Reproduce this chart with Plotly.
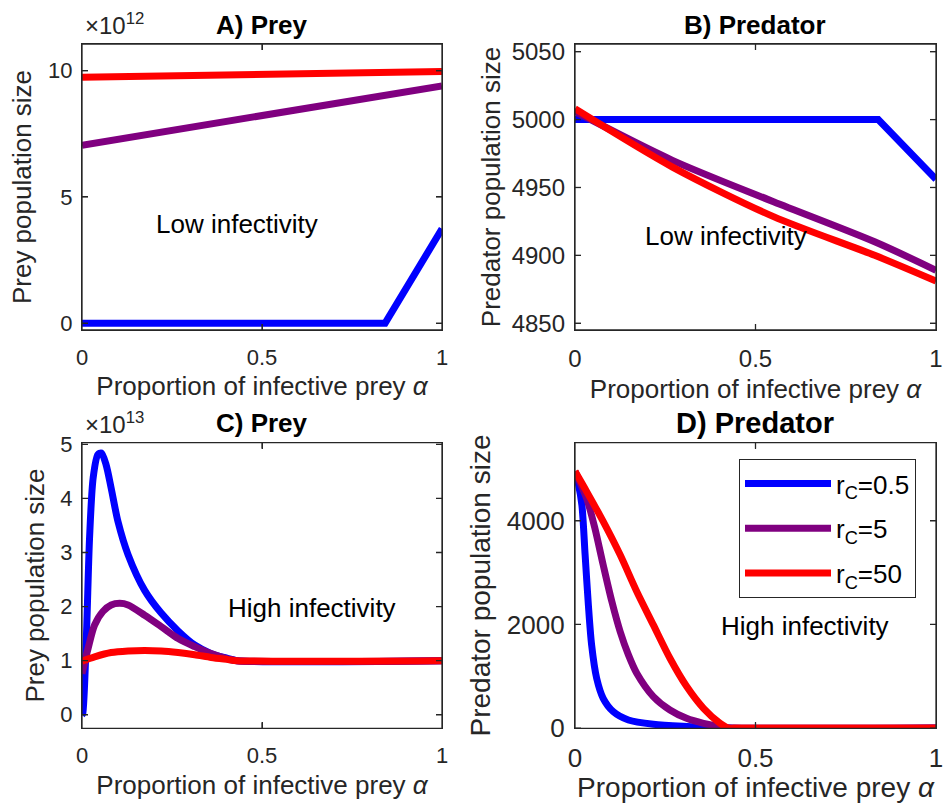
import plotly.graph_objects as go

# ---------------- data ----------------
# Panel A: prey, low infectivity
A_alpha_blue = [0.0, 0.842, 1.0]
A_prey_blue = [0.0, 0.0, 3.74e12]
A_alpha = [0.0, 0.25, 0.5, 0.75, 1.0]
A_prey_purple = [7.05e12, 7.62e12, 8.2e12, 8.8e12, 9.4e12]
A_prey_red = [9.74e12, 9.80e12, 9.86e12, 9.92e12, 9.97e12]

# Panel B: predator, low infectivity
B_alpha_blue = [0.0, 0.84, 1.0]
B_pred_blue = [5000, 5000, 4956]
B_alpha = [0.0, 0.27, 0.55, 0.83, 1.0]
B_pred_purple = [5006, 4970, 4939.5, 4910, 4889]
B_pred_red = [5008, 4965, 4928.5, 4900, 4881]

# Panel C: prey, high infectivity
C_alpha_blue = [0.0, 0.002, 0.012, 0.021, 0.031, 0.044, 0.054, 0.067, 0.081, 0.1,
                0.128, 0.174, 0.22, 0.267, 0.313, 0.359, 0.406, 0.43, 1.0]
C_prey_blue = [0.0, 0.02e13, 1.41e13, 3.27e13, 4.38e13, 4.81e13, 4.84e13, 4.62e13, 4.19e13, 3.57e13,
               2.96e13, 2.30e13, 1.88e13, 1.55e13, 1.29e13, 1.13e13, 1.04e13, 1.0e13, 1.0e13]
C_alpha_purple = [0.0, 0.017, 0.035, 0.058, 0.081, 0.105, 0.128, 0.174, 0.22, 0.267,
                  0.313, 0.359, 0.406, 0.43, 1.0]
C_prey_purple = [0.76e13, 1.23e13, 1.66e13, 1.91e13, 2.03e13, 2.06e13, 2.03e13, 1.84e13, 1.63e13, 1.41e13,
                 1.26e13, 1.13e13, 1.03e13, 1.0e13, 1.0e13]
C_alpha_red = [0.0, 0.035, 0.081, 0.128, 0.174, 0.22, 0.267, 0.313, 0.359, 0.406, 0.43, 1.0]
C_prey_red = [0.99e13, 1.07e13, 1.15e13, 1.18e13, 1.19e13, 1.18e13, 1.15e13, 1.11e13, 1.06e13, 1.02e13,
              1.0e13, 1.0e13]

# Panel D: predator, high infectivity
D_alpha_blue = [0.0, 0.008, 0.019, 0.028, 0.037, 0.046, 0.06, 0.078, 0.106, 0.148, 0.217, 0.31, 0.42, 1.0]
D_pred_blue = [4950, 4750, 4309, 3343, 2377, 1604, 960, 574, 317, 155, 72, 30, 0, 0]
D_alpha_purple = [0.0, 0.032, 0.055, 0.078, 0.102, 0.125, 0.148, 0.171, 0.217, 0.263,
                  0.309, 0.356, 0.402, 0.43, 1.0]
D_pred_purple = [4950, 4439, 3859, 3150, 2443, 1863, 1411, 1057, 607, 348, 187, 91, 30, 0, 0]
D_alpha_red = [0.0, 0.032, 0.078, 0.125, 0.171, 0.217, 0.263, 0.309, 0.356, 0.402, 0.425, 0.44, 1.0]
D_pred_red = [4955, 4568, 3988, 3343, 2636, 1990, 1347, 806, 381, 91, 0, 0, 0]

series_names = ["r<sub>C</sub>=0.5", "r<sub>C</sub>=5", "r<sub>C</sub>=50"]
colors = ["#0000FF", "#800080", "#FF0000"]

panel_titles = ["A) Prey", "B) Predator", "C) Prey", "D) Predator"]
xlabel = "Proportion of infective prey <i>α</i>"
ylabels = ["Prey population size", "Predator population size",
           "Prey population size", "Predator population size"]
notes = ["Low infectivity", "Low infectivity", "High infectivity", "High infectivity"]

# axis ranges and ticks
xrange_all = [0.0, 1.0]
xtickvals = [0, 0.5, 1]
xticktext = ["0", "0.5", "1"]
yranges = [[-0.27e12, 11.06e12], [4845, 5055.7], [-0.25e13, 5.03e13], [-5, 5507]]
ytickvals = [[0, 5e12, 10e12], [4850, 4900, 4950, 5000, 5050], [0, 1e13, 2e13, 3e13, 4e13, 5e13], [0, 2000, 4000]]
yticktext = [["0", "5", "10"], ["4850", "4900", "4950", "5000", "5050"], ["0", "1", "2", "3", "4", "5"], ["0", "2000", "4000"]]

# ---------------- figure ----------------
W, H = 951, 803
FONT = "Liberation Sans, Arial, Helvetica, sans-serif"
AX = "#262626"
LW = 7
FRAME_W = 1.3
TICK_PX = 6

def px_x(p):
    return p / W

def px_y(p):
    return 1 - p / H

# subplot boxes in pixels (left, right, top, bottom)
boxes = [(82, 442, 44, 330), (575, 936, 44, 330), (82, 442, 442.7, 728.3), (575, 936, 442.7, 728.3)]

fig = go.Figure()

panels = [
    ("x", "y", [(A_alpha_blue, A_prey_blue), (A_alpha, A_prey_purple), (A_alpha, A_prey_red)]),
    ("x2", "y2", [(B_alpha_blue, B_pred_blue), (B_alpha, B_pred_purple), (B_alpha, B_pred_red)]),
    ("x3", "y3", [(C_alpha_blue, C_prey_blue), (C_alpha_purple, C_prey_purple), (C_alpha_red, C_prey_red)]),
    ("x4", "y4", [(D_alpha_blue, D_pred_blue), (D_alpha_purple, D_pred_purple), (D_alpha_red, D_pred_red)]),
]
# line shape per panel/series (kinked series stay linear)
shapes_ = [
    ["linear", "linear", "linear"],
    ["linear", "spline", "spline"],
    ["spline", "spline", "spline"],
    ["spline", "spline", "spline"],
]

for pi, (xa, ya, series) in enumerate(panels):
    for si, (xs, ys) in enumerate(series):
        sh = shapes_[pi][si]
        line = dict(color=colors[si], width=LW, shape=sh)
        if sh == "spline":
            line["smoothing"] = 0.8
        fig.add_trace(go.Scatter(
            x=xs, y=ys, mode="lines", line=line,
            name=series_names[si], xaxis=xa, yaxis=ya,
            legendgroup="g%d" % si,
            showlegend=(pi == 3), hoverinfo="skip",
        ))

# box frame and inside tick marks on all four sides (MATLAB "box on" look),
# derived from the axis ranges and tick values
for pi, (xa, ya, _) in enumerate(panels):
    y0, y1 = yranges[pi]
    x0, x1 = xrange_all
    l, r, t, b = boxes[pi]
    dy = TICK_PX * (y1 - y0) / (b - t)
    dx = TICK_PX * (x1 - x0) / (r - l)
    fx = [x0, x1, x1, x0, x0]
    fy = [y0, y0, y1, y1, y0]
    for xv in xtickvals:
        if x0 < xv < x1:
            fx += [None, xv, xv, None, xv, xv]
            fy += [None, y0, y0 + dy, None, y1, y1 - dy]
    for yv in ytickvals[pi]:
        if y0 < yv < y1:
            fx += [None, x0, x0 + dx, None, x1, x1 - dx]
            fy += [None, yv, yv, None, yv, yv]
    fig.add_trace(go.Scatter(
        x=fx, y=fy, mode="lines", line=dict(color=AX, width=FRAME_W),
        xaxis=xa, yaxis=ya, showlegend=False, hoverinfo="skip",
        cliponaxis=False, connectgaps=False,
    ))

def axis_common(tickfont_size):
    return dict(
        showline=True, linecolor=AX, linewidth=FRAME_W, mirror="ticks",
        ticks="inside", ticklen=TICK_PX, tickcolor=AX, tickwidth=FRAME_W,
        showgrid=False, zeroline=False, automargin=False,
        tickfont=dict(family=FONT, size=tickfont_size, color=AX),
    )

tick_sizes = [22, 24, 22, 26]
title_sizes = [26, 26, 26, 28]
ytitle_standoff = [8, 3, 8, 8]
xtick_standoff = [7, 7, 7, 6]
xtitle_standoff = [8, 8, 8, 11]

layout = dict(
    width=W, height=H,
    margin=dict(l=0, r=0, t=0, b=0, autoexpand=False),
    paper_bgcolor="white", plot_bgcolor="white",
    font=dict(family=FONT, color=AX),
    legend=dict(
        x=px_x(739), y=px_y(459), xanchor="left", yanchor="top",
        bgcolor="white", bordercolor=AX, borderwidth=1,
        font=dict(family=FONT, size=26, color="black"),
        itemwidth=86, tracegroupgap=8,
    ),
)

for i in range(4):
    sfx = "" if i == 0 else str(i + 1)
    l, r, t, b = boxes[i]
    ax_x = axis_common(tick_sizes[i])
    ax_x.update(domain=[px_x(l), px_x(r)], range=xrange_all, tickvals=xtickvals, ticktext=xticktext,
                anchor="y" + sfx, ticklabelstandoff=xtick_standoff[i],
                title=dict(text=xlabel, standoff=xtitle_standoff[i],
                           font=dict(family=FONT, size=title_sizes[i], color=AX)))
    ax_y = axis_common(tick_sizes[i])
    ax_y.update(domain=[px_y(b), px_y(t)], range=yranges[i], tickvals=ytickvals[i], ticktext=yticktext[i],
                anchor="x" + sfx, ticklabelstandoff=4,
                title=dict(text=ylabels[i], standoff=ytitle_standoff[i],
                           font=dict(family=FONT, size=title_sizes[i], color=AX)))
    layout["xaxis" + sfx] = ax_x
    layout["yaxis" + sfx] = ax_y

fig.update_layout(**layout)

annotations = []
# panel titles
title_pos = [(262, 25, 26), (755, 25, 26), (262, 423, 26), (755, 423, 29)]
for t, (cx, cy, fs) in zip(panel_titles, title_pos):
    annotations.append(dict(text="<b>" + t + "</b>", x=px_x(cx), y=px_y(cy), xref="paper", yref="paper",
                            xanchor="center", yanchor="middle", showarrow=False,
                            font=dict(family=FONT, size=fs, color="black")))
# in-plot notes
note_pos = [(237, 224), (726, 236), (312, 608), (805, 626)]
for t, (cx, cy) in zip(notes, note_pos):
    annotations.append(dict(text=t, x=px_x(cx), y=px_y(cy), xref="paper", yref="paper",
                            xanchor="center", yanchor="middle", showarrow=False,
                            font=dict(family=FONT, size=26, color="black")))
# exponent labels
for txt, ytop in [("×10<sup>12</sup>", 41), ("×10<sup>13</sup>", 440)]:
    annotations.append(dict(text=txt, x=px_x(83), y=px_y(ytop), xref="paper", yref="paper",
                            xanchor="left", yanchor="bottom", showarrow=False,
                            font=dict(family=FONT, size=24, color=AX)))
fig.update_layout(annotations=annotations)

fig.write_html("out.html")
